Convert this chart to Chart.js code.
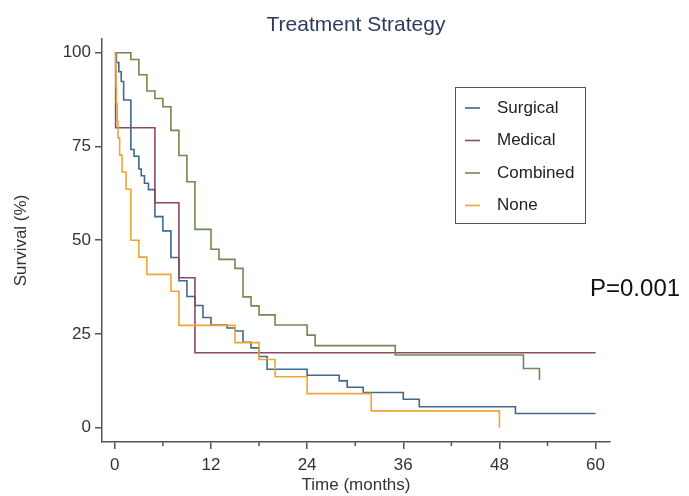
<!DOCTYPE html>
<html>
<head>
<meta charset="utf-8">
<script src="https://cdn.jsdelivr.net/npm/chart.js@4.4.0/dist/chart.umd.min.js"></script>
<style>
  html, body { margin: 0; padding: 0; background: #fff; }
  #wrap { width: 689px; height: 496px; }
</style>
</head>
<body>
<div id="wrap"><canvas id="kmChart" width="689" height="496"></canvas></div>
<script>
// ---------------- data ----------------
const seriesNames = ['Surgical', 'Medical', 'Combined', 'None'];
const seriesColors = ['#3f6a90', '#8c4a5e', '#6f8a50', '#efa535'];

const surgicalTime = [0, 0.2, 0.5, 0.8, 1.1, 2, 2.4, 3, 3.3, 3.7, 4.2, 5, 6, 7, 8, 9, 10, 11, 12, 14, 15, 16, 17, 18, 19, 24, 28, 29, 31, 36, 38, 50, 60];
const surgicalSurv = [100, 97.4, 94.9, 92.3, 87.4, 74.2, 72.4, 69.0, 67.2, 65.2, 63.5, 56.3, 52.5, 45.4, 39.2, 35.0, 32.6, 29.4, 27.4, 26.6, 25.8, 22.8, 21.3, 19.0, 15.6, 14.0, 12.5, 10.8, 9.4, 7.6, 5.6, 3.8, 3.8];

const medicalTime = [0, 0.1, 5, 8, 10, 60];
const medicalSurv = [100, 80, 60, 40, 20, 20];

const combinedTime = [0, 2, 3, 4, 5, 6, 7, 8, 9, 10, 12, 13, 15, 16, 17, 18, 20, 24, 25, 35, 51, 53];
const combinedSurv = [100, 98.2, 94.1, 89.8, 87.8, 85.6, 79.3, 72.6, 65.6, 52.9, 47.6, 44.9, 42.5, 34.9, 32.5, 30.1, 27.4, 24.7, 21.9, 19.4, 15.8, 12.7];

const noneTime = [0, 0.1, 0.15, 0.2, 0.3, 0.4, 0.6, 0.9, 1.4, 2, 3, 4, 7, 8, 15, 18, 20, 24, 32, 48];
const noneSurv = [100, 95.5, 90.9, 86.4, 81.8, 77.3, 72.7, 68.2, 63.6, 50, 45.5, 40.9, 36.4, 27.3, 22.7, 18.2, 13.6, 9.1, 4.5, 0];

const xTicks = [0, 12, 24, 36, 48, 60];
const xMinorTicks = [6, 18, 30, 42, 54];
const yTicks = [0, 25, 50, 75, 100];

const FONT = '"Liberation Sans", Arial, Helvetica, sans-serif';
const AXIS_COLOR = '#555';

function toPoints(times, surv) {
  return times.map((t, i) => ({ x: t, y: surv[i] }));
}

const allTimes = [surgicalTime, medicalTime, combinedTime, noneTime];
const allSurv = [surgicalSurv, medicalSurv, combinedSurv, noneSurv];

const datasets = seriesNames.map((name, i) => ({
  label: name,
  data: toPoints(allTimes[i], allSurv[i]),
  borderColor: seriesColors[i],
  borderWidth: 1.6,
  stepped: true,
  pointRadius: 0,
  fill: false,
  order: 4 - i
}));

// ---------------- title, legend box, p-value, minor ticks ----------------
const overlay = {
  id: 'overlay',
  afterDraw(chart) {
    const ctx = chart.ctx;
    ctx.save();

    ctx.fillStyle = '#2e3a5e';
    ctx.font = '21px ' + FONT;
    ctx.textAlign = 'center';
    ctx.textBaseline = 'middle';
    ctx.fillText('Treatment Strategy', 356, 25);

    // minor ticks on x
    const xs = chart.scales.x;
    ctx.strokeStyle = AXIS_COLOR;
    ctx.lineWidth = 1.5;
    xMinorTicks.forEach(v => {
      const px = xs.getPixelForValue(v);
      ctx.beginPath();
      ctx.moveTo(px, xs.top);
      ctx.lineTo(px, xs.top + 4);
      ctx.stroke();
    });

    // legend
    ctx.strokeStyle = '#555';
    ctx.lineWidth = 1;
    ctx.strokeRect(455.5, 87.5, 130, 136);
    ctx.font = '17px ' + FONT;
    ctx.textAlign = 'left';
    seriesNames.forEach((name, i) => {
      const y = 108 + i * 32.5;
      ctx.strokeStyle = seriesColors[i];
      ctx.lineWidth = 1.6;
      ctx.beginPath();
      ctx.moveTo(465, y);
      ctx.lineTo(480, y);
      ctx.stroke();
      ctx.fillStyle = '#222';
      ctx.fillText(name, 497, y);
    });

    // p-value
    ctx.fillStyle = '#111';
    ctx.font = '24px ' + FONT;
    ctx.fillText('P=0.001', 590, 289);

    ctx.restore();
  }
};

const ctx = document.getElementById('kmChart').getContext('2d');
new Chart(ctx, {
  type: 'line',
  data: { datasets: datasets },
  options: {
    responsive: false,
    animation: false,
    layout: { padding: { left: 0, top: 39, right: 79, bottom: 0 } },
    plugins: {
      legend: { display: false },
      tooltip: { enabled: false },
      title: { display: false }
    },
    scales: {
      x: {
        type: 'linear',
        min: -1.6,
        max: 61.8,
        afterBuildTicks: scale => { scale.ticks = xTicks.map(v => ({ value: v })); },
        afterFit: scale => { scale.height = 54; },
        border: { display: true, color: AXIS_COLOR, width: 1.5 },
        grid: { drawOnChartArea: false, drawTicks: true, tickLength: 7, color: AXIS_COLOR, lineWidth: 1.5 },
        ticks: { color: '#333', font: { family: FONT, size: 17 }, padding: 6, maxRotation: 0 },
        title: { display: true, text: 'Time (months)', color: '#333', font: { family: FONT, size: 17 }, padding: { top: 0, bottom: 0 } }
      },
      y: {
        type: 'linear',
        min: -3.8,
        max: 103.65,
        afterBuildTicks: scale => { scale.ticks = yTicks.map(v => ({ value: v })); },
        afterFit: scale => { scale.width = 102; },
        border: { display: true, color: AXIS_COLOR, width: 1.5 },
        grid: { drawOnChartArea: false, drawTicks: true, tickLength: 7, color: AXIS_COLOR, lineWidth: 1.5 },
        ticks: { color: '#333', font: { family: FONT, size: 17 }, padding: 4 },
        title: { display: true, text: 'Survival (%)', color: '#333', font: { family: FONT, size: 17 }, padding: { top: 11, bottom: 0 } }
      }
    }
  },
  plugins: [overlay]
});
</script>
</body>
</html>
